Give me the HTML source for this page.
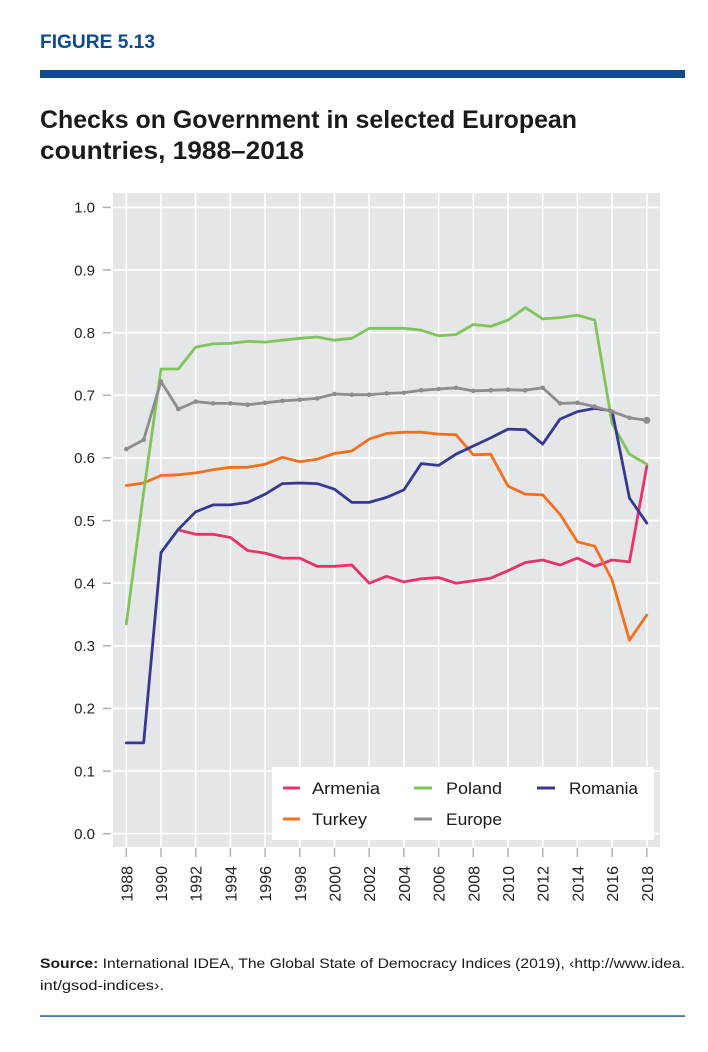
<!DOCTYPE html>
<html>
<head>
<meta charset="utf-8">
<style>
html,body{margin:0;padding:0;background:#fff;}
svg{display:block;}
text{font-family:"Liberation Sans",sans-serif;}
</style>
</head>
<body>
<svg width="708" height="1052" viewBox="0 0 708 1052" xmlns="http://www.w3.org/2000/svg">
<rect x="0" y="0" width="708" height="1052" fill="#fff"/>
<!-- header -->
<text x="40" y="48" font-size="19" font-weight="bold" fill="#0d4b8e" textLength="115" lengthAdjust="spacingAndGlyphs">FIGURE 5.13</text>
<rect x="40" y="70" width="645" height="8" fill="#0d4b8e"/>
<text x="40" y="128" font-size="25" font-weight="bold" fill="#1a1a1a" textLength="537" lengthAdjust="spacingAndGlyphs">Checks on Government in selected European</text>
<text x="40" y="159" font-size="25" font-weight="bold" fill="#1a1a1a" textLength="264" lengthAdjust="spacingAndGlyphs">countries, 1988–2018</text>

<!-- plot background -->
<rect x="113" y="193" width="547" height="654" fill="#e5e6e8"/>
<g stroke="#ffffff" stroke-width="1.6">
<line x1="113" x2="660" y1="833.7" y2="833.7"/>
<line x1="113" x2="660" y1="771.1" y2="771.1"/>
<line x1="113" x2="660" y1="708.4" y2="708.4"/>
<line x1="113" x2="660" y1="645.8" y2="645.8"/>
<line x1="113" x2="660" y1="583.2" y2="583.2"/>
<line x1="113" x2="660" y1="520.6" y2="520.6"/>
<line x1="113" x2="660" y1="457.9" y2="457.9"/>
<line x1="113" x2="660" y1="395.3" y2="395.3"/>
<line x1="113" x2="660" y1="332.7" y2="332.7"/>
<line x1="113" x2="660" y1="270.0" y2="270.0"/>
<line x1="113" x2="660" y1="207.4" y2="207.4"/>
<line y1="193" y2="847" x1="126.3" x2="126.3"/>
<line y1="193" y2="847" x1="161.0" x2="161.0"/>
<line y1="193" y2="847" x1="195.7" x2="195.7"/>
<line y1="193" y2="847" x1="230.4" x2="230.4"/>
<line y1="193" y2="847" x1="265.1" x2="265.1"/>
<line y1="193" y2="847" x1="299.8" x2="299.8"/>
<line y1="193" y2="847" x1="334.5" x2="334.5"/>
<line y1="193" y2="847" x1="369.2" x2="369.2"/>
<line y1="193" y2="847" x1="403.9" x2="403.9"/>
<line y1="193" y2="847" x1="438.6" x2="438.6"/>
<line y1="193" y2="847" x1="473.3" x2="473.3"/>
<line y1="193" y2="847" x1="508.0" x2="508.0"/>
<line y1="193" y2="847" x1="542.7" x2="542.7"/>
<line y1="193" y2="847" x1="577.4" x2="577.4"/>
<line y1="193" y2="847" x1="612.1" x2="612.1"/>
<line y1="193" y2="847" x1="646.8" x2="646.8"/>
</g>

<!-- axis ticks -->
<g stroke="#b0b0b0" stroke-width="1.5">
<line x1="103" x2="111" y1="833.7" y2="833.7"/>
<line x1="103" x2="111" y1="771.1" y2="771.1"/>
<line x1="103" x2="111" y1="708.4" y2="708.4"/>
<line x1="103" x2="111" y1="645.8" y2="645.8"/>
<line x1="103" x2="111" y1="583.2" y2="583.2"/>
<line x1="103" x2="111" y1="520.6" y2="520.6"/>
<line x1="103" x2="111" y1="457.9" y2="457.9"/>
<line x1="103" x2="111" y1="395.3" y2="395.3"/>
<line x1="103" x2="111" y1="332.7" y2="332.7"/>
<line x1="103" x2="111" y1="270.0" y2="270.0"/>
<line x1="103" x2="111" y1="207.4" y2="207.4"/>
<line y1="848" y2="857" x1="126.3" x2="126.3"/>
<line y1="848" y2="857" x1="161.0" x2="161.0"/>
<line y1="848" y2="857" x1="195.7" x2="195.7"/>
<line y1="848" y2="857" x1="230.4" x2="230.4"/>
<line y1="848" y2="857" x1="265.1" x2="265.1"/>
<line y1="848" y2="857" x1="299.8" x2="299.8"/>
<line y1="848" y2="857" x1="334.5" x2="334.5"/>
<line y1="848" y2="857" x1="369.2" x2="369.2"/>
<line y1="848" y2="857" x1="403.9" x2="403.9"/>
<line y1="848" y2="857" x1="438.6" x2="438.6"/>
<line y1="848" y2="857" x1="473.3" x2="473.3"/>
<line y1="848" y2="857" x1="508.0" x2="508.0"/>
<line y1="848" y2="857" x1="542.7" x2="542.7"/>
<line y1="848" y2="857" x1="577.4" x2="577.4"/>
<line y1="848" y2="857" x1="612.1" x2="612.1"/>
<line y1="848" y2="857" x1="646.8" x2="646.8"/>
</g>

<!-- y labels -->
<g font-size="15" fill="#222" text-anchor="end">
<text x="95" y="839">0.0</text>
<text x="95" y="776.4">0.1</text>
<text x="95" y="713.7">0.2</text>
<text x="95" y="651.1">0.3</text>
<text x="95" y="588.5">0.4</text>
<text x="95" y="525.9">0.5</text>
<text x="95" y="463.2">0.6</text>
<text x="95" y="400.6">0.7</text>
<text x="95" y="338">0.8</text>
<text x="95" y="275.3">0.9</text>
<text x="95" y="212.7">1.0</text>
</g>

<!-- x labels -->
<g font-size="16" fill="#222" text-anchor="end">
<text transform="translate(132.3,866) rotate(-90)">1988</text>
<text transform="translate(167.0,866) rotate(-90)">1990</text>
<text transform="translate(201.7,866) rotate(-90)">1992</text>
<text transform="translate(236.4,866) rotate(-90)">1994</text>
<text transform="translate(271.1,866) rotate(-90)">1996</text>
<text transform="translate(305.8,866) rotate(-90)">1998</text>
<text transform="translate(340.5,866) rotate(-90)">2000</text>
<text transform="translate(375.2,866) rotate(-90)">2002</text>
<text transform="translate(409.9,866) rotate(-90)">2004</text>
<text transform="translate(444.6,866) rotate(-90)">2006</text>
<text transform="translate(479.3,866) rotate(-90)">2008</text>
<text transform="translate(514.0,866) rotate(-90)">2010</text>
<text transform="translate(548.7,866) rotate(-90)">2012</text>
<text transform="translate(583.4,866) rotate(-90)">2014</text>
<text transform="translate(618.1,866) rotate(-90)">2016</text>
<text transform="translate(652.8,866) rotate(-90)">2018</text>
</g>

<!-- series -->
<g fill="none" stroke-width="2.8" stroke-linejoin="round" stroke-linecap="round">
<!-- Armenia -->
<polyline stroke="#e8336a" points="178.35,529.9 195.7,534.3 213.05,534.3 230.4,537.5 247.75,550.6 265.1,553.1 282.45,558.1 299.8,558.1 317.15,566.3 334.5,566.3 351.85,565.0 369.2,583.2 386.55,576.3 403.9,581.9 421.25,578.8 438.6,577.5 455.95,583.2 473.3,580.7 490.65,578.2 508.0,570.7 525.35,562.5 542.7,560.0 560.05,565.0 577.4,558.1 594.75,566.3 612.1,560.0 629.45,561.9 646.8,466.1"/>
<!-- Turkey -->
<polyline stroke="#f4701f" points="126.3,485.5 143.65,483.0 161.0,475.5 178.35,474.8 195.7,472.9 213.05,469.8 230.4,467.3 247.75,467.3 265.1,464.2 282.45,457.3 299.8,461.7 317.15,459.2 334.5,453.5 351.85,451.0 369.2,439.1 386.55,433.5 403.9,432.2 421.25,432.2 438.6,434.1 455.95,434.7 473.3,454.8 490.65,454.2 508.0,486.1 525.35,494.2 542.7,494.9 560.05,514.3 577.4,541.8 594.75,546.2 612.1,580.0 629.45,640.2 646.8,615.1"/>
<!-- Poland -->
<polyline stroke="#80c45c" points="126.3,623.9 143.65,492.4 161.0,369.0 178.35,369.0 195.7,347.1 213.05,343.9 230.4,343.3 247.75,341.4 265.1,342.1 282.45,340.2 299.8,338.3 317.15,337.0 334.5,340.2 351.85,338.3 369.2,328.3 386.55,328.3 403.9,328.3 421.25,330.2 438.6,335.8 455.95,334.5 473.3,324.5 490.65,326.4 508.0,320.1 525.35,307.6 542.7,318.9 560.05,317.6 577.4,315.1 594.75,320.1 612.1,423.5 629.45,454.2 646.8,464.2"/>
<!-- Romania -->
<polyline stroke="#383893" points="126.3,742.9 143.65,742.9 161.0,552.5 178.35,529.3 195.7,511.8 213.05,504.9 230.4,504.9 247.75,502.4 265.1,494.2 282.45,483.6 299.8,483.0 317.15,483.6 334.5,489.2 351.85,502.4 369.2,502.4 386.55,497.4 403.9,489.9 421.25,463.6 438.6,465.4 455.95,454.2 473.3,446.0 490.65,437.9 508.0,429.1 525.35,429.7 542.7,444.1 560.05,419.1 577.4,411.6 594.75,408.4 612.1,410.9 629.45,498.0 646.8,523.1"/>
<!-- Europe -->
<polyline stroke="#8d8d8d" points="126.3,449.1 143.65,439.8 161.0,381.5 178.35,409.1 195.7,401.6 213.05,403.4 230.4,403.4 247.75,404.7 265.1,402.8 282.45,400.9 299.8,399.7 317.15,398.4 334.5,394.0 351.85,394.7 369.2,394.7 386.55,393.4 403.9,392.8 421.25,390.3 438.6,389.0 455.95,387.8 473.3,390.9 490.65,390.3 508.0,389.7 525.35,390.3 542.7,387.8 560.05,403.4 577.4,402.8 594.75,406.6 612.1,411.6 629.45,417.8 646.8,420.3"/>
</g>
<g fill="#8d8d8d">
<circle cx="126.3" cy="449.1" r="2.3"/><circle cx="143.65" cy="439.8" r="2.3"/><circle cx="161.0" cy="381.5" r="2.3"/><circle cx="178.35" cy="409.1" r="2.3"/><circle cx="195.7" cy="401.6" r="2.3"/><circle cx="213.05" cy="403.4" r="2.3"/><circle cx="230.4" cy="403.4" r="2.3"/><circle cx="247.75" cy="404.7" r="2.3"/><circle cx="265.1" cy="402.8" r="2.3"/><circle cx="282.45" cy="400.9" r="2.3"/><circle cx="299.8" cy="399.7" r="2.3"/><circle cx="317.15" cy="398.4" r="2.3"/><circle cx="334.5" cy="394.0" r="2.3"/><circle cx="351.85" cy="394.7" r="2.3"/><circle cx="369.2" cy="394.7" r="2.3"/><circle cx="386.55" cy="393.4" r="2.3"/><circle cx="403.9" cy="392.8" r="2.3"/><circle cx="421.25" cy="390.3" r="2.3"/><circle cx="438.6" cy="389.0" r="2.3"/><circle cx="455.95" cy="387.8" r="2.3"/><circle cx="473.3" cy="390.9" r="2.3"/><circle cx="490.65" cy="390.3" r="2.3"/><circle cx="508.0" cy="389.7" r="2.3"/><circle cx="525.35" cy="390.3" r="2.3"/><circle cx="542.7" cy="387.8" r="2.3"/><circle cx="560.05" cy="403.4" r="2.3"/><circle cx="577.4" cy="402.8" r="2.3"/><circle cx="594.75" cy="406.6" r="2.3"/><circle cx="612.1" cy="411.6" r="2.3"/><circle cx="629.45" cy="417.8" r="2.3"/><circle cx="646.8" cy="420.3" r="3.6"/>
</g>

<!-- legend -->
<rect x="272" y="767" width="382" height="73" fill="#ffffff"/>
<g stroke-width="3">
<line x1="283" x2="300" y1="788" y2="788" stroke="#e8336a"/>
<line x1="283" x2="300" y1="819" y2="819" stroke="#f4701f"/>
<line x1="414" x2="432" y1="788" y2="788" stroke="#80c45c"/>
<line x1="414" x2="432" y1="819" y2="819" stroke="#8d8d8d"/>
<line x1="537" x2="555" y1="788" y2="788" stroke="#383893"/>
</g>
<g font-size="17" fill="#1a1a1a">
<text x="312" y="794" textLength="68" lengthAdjust="spacingAndGlyphs">Armenia</text>
<text x="312" y="825" textLength="55" lengthAdjust="spacingAndGlyphs">Turkey</text>
<text x="446" y="794" textLength="56" lengthAdjust="spacingAndGlyphs">Poland</text>
<text x="446" y="825" textLength="56" lengthAdjust="spacingAndGlyphs">Europe</text>
<text x="569" y="794" textLength="69" lengthAdjust="spacingAndGlyphs">Romania</text>
</g>

<!-- source -->
<text x="40" y="968" font-size="14" fill="#1a1a1a" textLength="645" lengthAdjust="spacingAndGlyphs"><tspan font-weight="bold">Source:</tspan> International IDEA, The Global State of Democracy Indices (2019), ‹http://www.idea.</text>
<text x="40" y="990" font-size="14" fill="#1a1a1a" textLength="124" lengthAdjust="spacingAndGlyphs">int/gsod-indices›.</text>
<rect x="40" y="1015.3" width="645" height="1.5" fill="#1b5aa0"/>
</svg>
</body>
</html>
